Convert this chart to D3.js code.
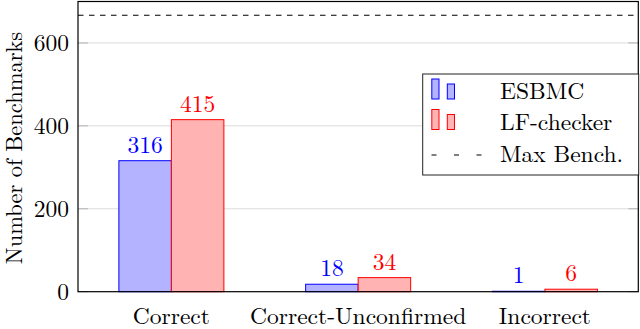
<!DOCTYPE html>
<html>
<head>
<meta charset="utf-8">
<script src="https://cdn.jsdelivr.net/npm/d3@7"></script>
<style>
  html, body { margin: 0; padding: 0; background: #fff; }
  svg text { font-family: "Latin Modern Roman", "CMU Serif", "Liberation Serif", serif; font-size: 23.5px; }
</style>
</head>
<body>
<svg id="chart" width="640" height="329"></svg>
<script>
const categories = ['Correct', 'Correct-Unconfirmed', 'Incorrect']
const esbmc = [316, 18, 1]
const lfChecker = [415, 34, 6]
const maxBench = 667
const yTicks = [0, 200, 400, 600]

const seriesNames = ['ESBMC', 'LF-checker']
const seriesColors = [
  { stroke: '#0000ff', fill: '#b3b3ff' },
  { stroke: '#ff0000', fill: '#ffb3b3' }
]

const svg = d3.select('#chart')
const margin = { left: 78, right: 1.7, top: 1.5, bottom: 37.3 }
const width = 640, height = 329

const x = d3.scaleBand()
  .domain(categories)
  .range([margin.left, width - margin.right])
  .padding(0)

const y = d3.scaleLinear()
  .domain([0, 700])
  .range([height - margin.bottom, margin.top])

const barW = 52.5
const sub = d3.scaleBand()
  .domain(seriesNames)
  .range([-barW, barW])

// grid lines
svg.append('g')
  .selectAll('line')
  .data(yTicks.filter(d => d > 0))
  .join('line')
  .attr('x1', margin.left).attr('x2', width - margin.right)
  .attr('y1', d => y(d)).attr('y2', d => y(d))
  .attr('stroke', '#dcdcdc').attr('stroke-width', 1)

// tick marks, inside, both sides
const tickG = svg.append('g')
tickG.selectAll('line.l')
  .data(yTicks)
  .join('line')
  .attr('class', 'l')
  .attr('x1', margin.left).attr('x2', margin.left + 10)
  .attr('y1', d => y(d)).attr('y2', d => y(d))
  .attr('stroke', '#b4b4b4')
tickG.selectAll('line.r')
  .data(yTicks)
  .join('line')
  .attr('class', 'r')
  .attr('x1', width - margin.right - 10).attr('x2', width - margin.right)
  .attr('y1', d => y(d)).attr('y2', d => y(d))
  .attr('stroke', '#b4b4b4')

// max bench line
svg.append('line')
  .attr('x1', margin.left).attr('x2', width - margin.right)
  .attr('y1', y(maxBench)).attr('y2', y(maxBench))
  .attr('stroke', '#000').attr('stroke-width', 1.1)
  .attr('stroke-dasharray', '5.5,5.5')

// bars
const series = [esbmc, lfChecker]
series.forEach((vals, si) => {
  const g = svg.append('g')
  const cx = c => x(c) + x.bandwidth() / 2 + sub(seriesNames[si])
  g.selectAll('rect')
    .data(categories)
    .join('rect')
    .attr('x', c => cx(c))
    .attr('width', sub.bandwidth())
    .attr('y', (c, i) => y(vals[i]))
    .attr('height', (c, i) => y(0) - y(vals[i]))
    .attr('fill', seriesColors[si].fill)
    .attr('stroke', seriesColors[si].stroke)
    .attr('stroke-width', 1)
  g.selectAll('text')
    .data(categories)
    .join('text')
    .attr('x', c => cx(c) + sub.bandwidth() / 2)
    .attr('y', (c, i) => y(vals[i]) - 8)
    .attr('text-anchor', 'middle')
    .attr('fill', seriesColors[si].stroke)
    .text((c, i) => vals[i])
})

// frame
svg.append('rect')
  .attr('x', margin.left).attr('y', margin.top)
  .attr('width', width - margin.right - margin.left)
  .attr('height', y(0) - margin.top)
  .attr('fill', 'none').attr('stroke', '#000').attr('stroke-width', 1.2)

// y tick labels
svg.append('g')
  .selectAll('text')
  .data(yTicks)
  .join('text')
  .attr('x', margin.left - 9)
  .attr('y', d => y(d) + 7.8)
  .attr('text-anchor', 'end')
  .text(d => d)

// x labels
svg.append('g')
  .selectAll('text')
  .data(categories)
  .join('text')
  .attr('x', c => x(c) + x.bandwidth() / 2)
  .attr('y', 323.5)
  .attr('text-anchor', 'middle')
  .text(d => d)

// y title
svg.append('text')
  .attr('transform', 'translate(22,148) rotate(-90)')
  .attr('text-anchor', 'middle')
  .style('font-size', '22.5px')
  .text('Number of Benchmarks')

// legend
const lg = svg.append('g')
lg.append('rect')
  .attr('x', 422.7).attr('y', 74)
  .attr('width', 216).attr('height', 101)
  .attr('fill', '#fff').attr('stroke', '#222').attr('stroke-width', 1)

seriesNames.forEach((name, i) => {
  const base = 99 + i * 30.5
  lg.append('rect')
    .attr('x', 431.8).attr('y', base - 20).attr('width', 7.2).attr('height', 20)
    .attr('fill', seriesColors[i].fill).attr('stroke', seriesColors[i].stroke)
  lg.append('rect')
    .attr('x', 447.3).attr('y', base - 15).attr('width', 7.2).attr('height', 15)
    .attr('fill', seriesColors[i].fill).attr('stroke', seriesColors[i].stroke)
  lg.append('text')
    .attr('x', 500).attr('y', base)
    .text(name)
})
lg.append('line')
  .attr('x1', 431.5).attr('x2', 482)
  .attr('y1', 155).attr('y2', 155)
  .attr('stroke', '#000').attr('stroke-width', 1.1).attr('stroke-dasharray', '5,17.5')
lg.append('text')
  .attr('x', 500).attr('y', 161.5)
  .text('Max Bench.')
</script>
</body>
</html>
